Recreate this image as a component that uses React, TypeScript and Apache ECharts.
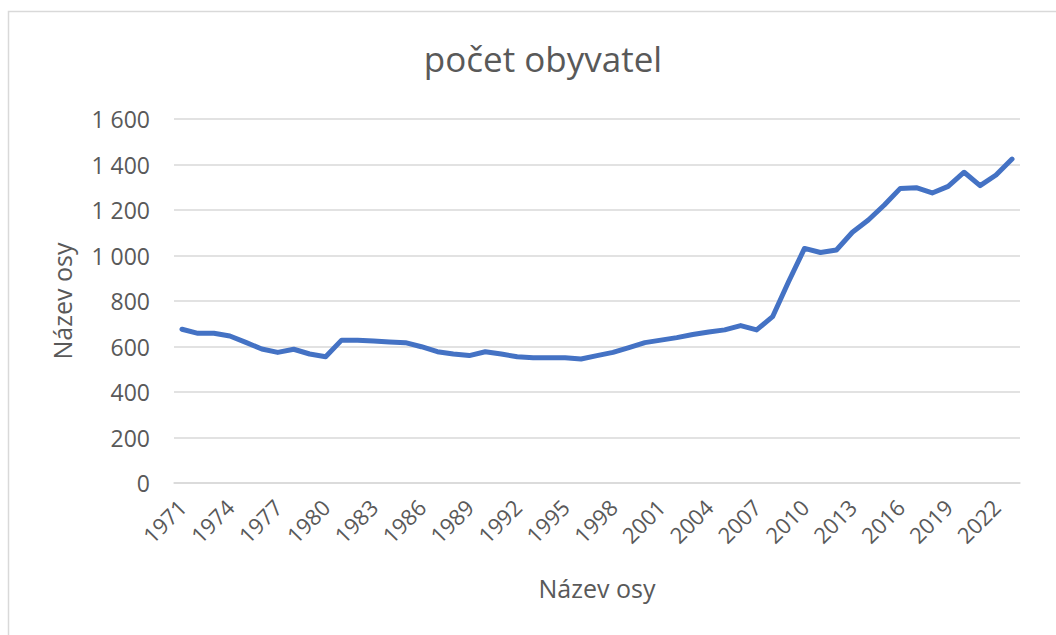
import React, { useEffect, useRef } from "react";
import * as echarts from "echarts";

const years: string[] = [];
for (let y = 1971; y <= 2023; y++) years.push(String(y));

const population: number[] = [
  676, 658, 658, 646, 618, 589, 574, 588, 567, 555,
  628, 628, 624, 620, 617, 599, 577, 567, 560, 577,
  567, 555, 551, 551, 551, 545, 560, 574, 595, 617,
  628, 639, 653, 664, 673, 692, 673, 731, 885, 1031,
  1013, 1024, 1102, 1156, 1222, 1295, 1298, 1275, 1304, 1366,
  1307, 1354, 1424,
];

const titleText = "počet obyvatel";
const axisName = "Název osy";

export default function App() {
  const ref = useRef<HTMLDivElement>(null);
  useEffect(() => {
    if (!ref.current) return;
    const chart = echarts.init(ref.current, null, { renderer: "svg" });
    const font = "'Open Sans', 'Liberation Sans', sans-serif";
    chart.setOption({
      animation: false,
      backgroundColor: "#ffffff",
      textStyle: { fontFamily: font },
      title: {
        text: titleText,
        left: 538,
        top: 36,
        textAlign: "center",
        textStyle: { fontFamily: font, fontSize: 35, fontWeight: "normal", color: "#595959" },
      },
      graphic: [
        {
          type: "rect",
          shape: { x: 8.5, y: 11.5, width: 1100, height: 700 },
          style: { fill: "none", stroke: "#d9d9d9", lineWidth: 1.5 },
          silent: true,
        },
      ],
      grid: { left: 174, right: 36, top: 119, bottom: 152, containLabel: false },
      xAxis: {
        type: "category",
        data: years,
        boundaryGap: true,
        name: axisName,
        nameLocation: "middle",
        nameGap: 92,
        nameTextStyle: { fontFamily: font, fontSize: 25, color: "#595959" },
        axisLine: { show: true, lineStyle: { color: "#d9d9d9", width: 1.5 } },
        axisTick: { show: false },
        axisLabel: {
          interval: 2,
          rotate: 45,
          margin: 20,
          fontSize: 22,
          color: "#595959",
          fontFamily: font,
        },
        splitLine: { show: false },
      },
      yAxis: {
        type: "value",
        min: 0,
        max: 1600,
        interval: 200,
        name: axisName,
        nameLocation: "middle",
        nameGap: 100,
        nameRotate: 90,
        nameTextStyle: { fontFamily: font, fontSize: 25, color: "#595959" },
        axisLine: { show: false },
        axisTick: { show: false },
        axisLabel: {
          margin: 24,
          fontSize: 23,
          color: "#595959",
          fontFamily: font,
          formatter: (v: number) => String(v).replace(/\B(?=(\d{3})+(?!\d))/g, " "),
        },
        splitLine: { lineStyle: { color: "#d9d9d9", width: 1.5 } },
      },
      series: [
        {
          type: "line",
          data: population,
          showSymbol: false,
          symbol: "none",
          lineStyle: { color: "#4472C4", width: 5, cap: "round", join: "round" },
          itemStyle: { color: "#4472C4" },
        },
      ],
    });
    return () => chart.dispose();
  }, []);
  return (
    <div
      ref={ref}
      style={{ position: "absolute", left: 0, top: 0, width: 1056, height: 635 }}
    />
  );
}
